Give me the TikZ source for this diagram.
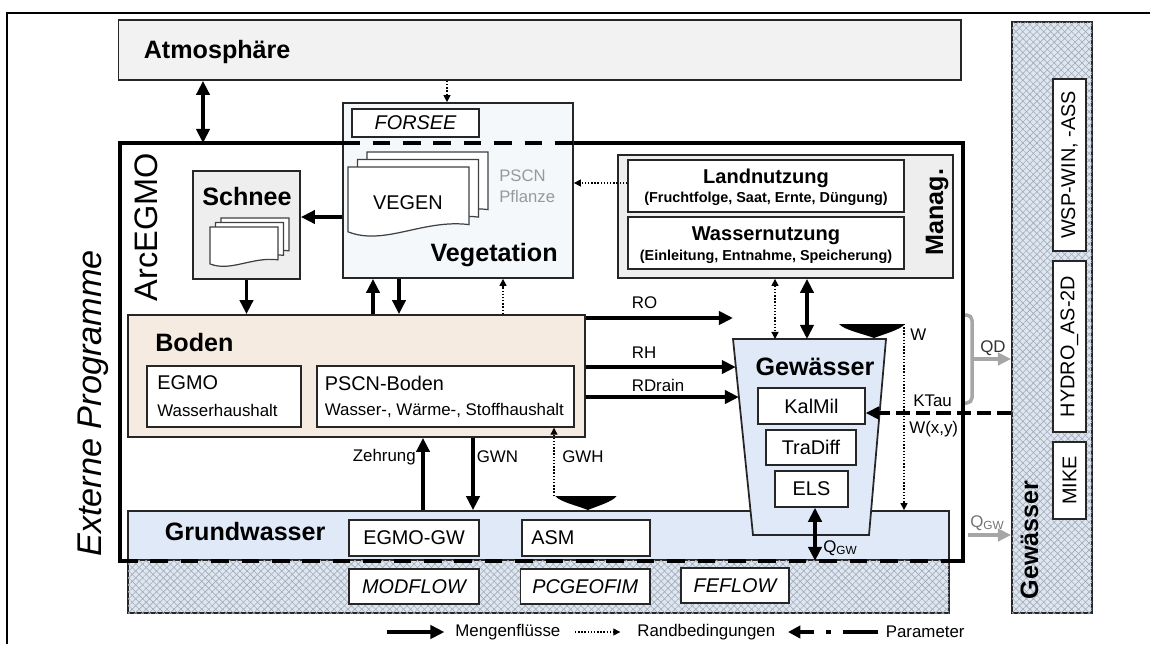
\documentclass[tikz,border=0pt]{standalone}
\usepackage{fontspec}
\setmainfont{Liberation Sans}
\usepackage{tikz}
\usetikzlibrary{arrows.meta,positioning,fit,calc,patterns.meta}

\definecolor{atmgray}{HTML}{F2F2F2}
\definecolor{mgmtgray}{HTML}{EEEEEE}
\definecolor{vegfill}{HTML}{F4F8FA}
\definecolor{bodenfill}{HTML}{F5EBE0}
\definecolor{wasserfill}{HTML}{DFE9F8}
\definecolor{hatchbg}{HTML}{DDE6F1}
\definecolor{hatchline}{HTML}{A3ABB5}
\definecolor{outgray}{HTML}{A6A6A6}

\tikzstyle{box}=[draw=black!85, line width=1pt, inner sep=0pt]
\tikzstyle{subbox}=[draw=black!85, line width=0.8pt, fill=white, inner sep=0pt]
\tikzstyle{arcframe}=[draw=black, line width=2.8pt, inner sep=0pt, outer sep=0pt]
\tikzstyle{hatched}=[box, fill=hatchbg,
  postaction={pattern={Lines[angle=45,distance=2.8pt,line width=0.35pt]}, pattern color=hatchline},
  postaction={pattern={Lines[angle=-45,distance=2.8pt,line width=0.35pt]}, pattern color=hatchline}]
\tikzstyle{head}=[inner sep=0pt, font=\bfseries\fontsize{14.3}{17}\selectfont]
\tikzstyle{txt}=[inner sep=0pt, font=\fontsize{11.3}{13.5}\selectfont]
\tikzstyle{prog}=[inner sep=0pt, font=\itshape\fontsize{11.3}{13.5}\selectfont]
\tikzstyle{lab}=[inner sep=0pt, font=\fontsize{9.6}{11.5}\selectfont]
\tikzstyle{flow}=[line width=2.2pt, -{Triangle[length=8pt,width=7.5pt]}]
\tikzstyle{flows}=[line width=2.2pt, {Triangle[length=8pt,width=7.5pt]}-{Triangle[length=8pt,width=7.5pt]}]
\tikzstyle{bound}=[line width=0.7pt, dash pattern=on 0.8pt off 1pt, -{Triangle[length=4pt,width=4pt]}]
\tikzstyle{bounds}=[bound, {Triangle[length=4pt,width=4pt]}-{Triangle[length=4pt,width=4pt]}]
\tikzstyle{param}=[line width=2.3pt, dash pattern=on 8pt off 3.5pt, -{Triangle[length=7.5pt,width=7pt]}]
\tikzstyle{paramleg}=[line width=2.3pt, dash pattern=on 20.4pt off 6.8pt on 2.8pt off 6.8pt, -{Triangle[length=7pt,width=7pt]}]
\tikzstyle{cutline}=[line width=2.6pt, dash pattern=on 10pt off 7.3pt]
\tikzstyle{outflow}=[draw=outgray, line width=2pt, -{Triangle[length=7.5pt,width=7pt]}]

\tikzset{
  sheet/.pic={\filldraw[fill=white, draw=black!75, line width=0.7pt] (0,0) -- (1,0) -- (1,0.8) .. controls (0.62,0.72) and (0.3,1.1) .. (0,0.9) -- cycle;},
  wlevel/.pic={\fill (-33,0) -- (33,0) .. controls (28,6) and (12,10) .. (2,14) .. controls (-8,10) and (-28,6) .. cycle;}
}

\begin{document}
\begin{tikzpicture}[x=0.2mm, y=-0.2mm]

\useasboundingbox (0,0) rectangle (1150,644);
\draw[line width=0.8pt] (7,644) -- (7,13) -- (1150,13);

% Atmosphaere
\node[box, fill=atmgray, fit={(118.6,20) (961,80)}] (atmo) {};
\node[head, anchor=west] (atmolbl) at (143.5,52) {Atmosphäre};

% ArcEGMO
\node[arcframe, fit={(120,143) (963,561)}] (arcegmo) {};
\node[rotate=90, anchor=base, inner sep=0pt, font=\fontsize{18.5}{22}\selectfont] (arclbl) at (157,227) {ArcEGMO};
\node[rotate=90, anchor=base, inner sep=0pt, font=\itshape\fontsize{19.5}{23}\selectfont] (extlbl) at (101.4,403.5) {Externe Programme};

% Gewaessermodelle rechts
\node[hatched, fit={(1012,22) (1092,613)}] (rcol) {};
\node[subbox, fit={(1053,79) (1086,251)}] (wsp) {};
\node[txt, rotate=90] (wsplbl) at (wsp) {WSP-WIN, -ASS};
\node[subbox, fit={(1053,261) (1086,432)}] (hydro) {};
\node[txt, rotate=90] (hydrolbl) at (hydro) {HYDRO\_AS-2D};
\node[subbox, fit={(1053,442) (1086,519)}] (mike) {};
\node[txt, rotate=90] (mikelbl) at (mike) {MIKE};
\node[head, rotate=90, anchor=base] (rcollbl) at (1038,540) {Gewässer};

% Vegetation
\node[box, fill=vegfill, fit={(343,103) (573,278)}] (veg) {};
\node[subbox, fit={(352,109) (479,137)}] (forsee) {};
\node[prog] (forseelbl) at (forsee) {FORSEE};
\draw[cutline] (veg.west |- 0,143) -- (veg.east |- 0,143);
\foreach \d in {2,1,0}
  \pic[shift={(348+9.5*\d,167-7.5*\d)}, xscale=121, yscale=72] {sheet};
\node[txt] (vegenlbl) at (408,203) {VEGEN};
\node[inner sep=0pt, text=black!40, align=left, anchor=west, font=\fontsize{9.5}{12}\selectfont] (pscnlbl) at (499,186.5) {PSCN\\Pflanze};
\node[head, anchor=east] (veglbl) at (558,255) {Vegetation};

% Schnee
\node[box, fill=mgmtgray, fit={(193,171) (300,279)}] (schnee) {};
\node[head] (schneelbl) at (247,197) {Schnee};
\foreach \d in {2,1,0}
  \pic[shift={(210+5.5*\d,227-4.5*\d)}, xscale=68, yscale=41] {sheet};

% Boden
\node[box, fill=bodenfill, fit={(128,315) (585,437)}] (boden) {};
\node[head, anchor=west] (bodenlbl) at (155,343) {Boden};
\node[subbox, fit={(147,366) (301,427)}] (egmo) {};
\node[txt, anchor=west] (egmolbl) at (157,383) {EGMO};
\node[lab, anchor=west] (egmotxt) at (157,410) {Wasserhaushalt};
\node[subbox, fit={(317,366) (574,427)}] (pscn) {};
\node[txt, anchor=west] (pscnbodlbl) at (324.5,383) {PSCN-Boden};
\node[lab, anchor=west] (pscntxt) at (324.5,410) {Wasser-, Wärme-, Stoffhaushalt};

% Management
\node[box, fill=mgmtgray, fit={(618,155) (953,278)}] (manag) {};
\node[subbox, fit={(628,160) (904,212)}] (landn) {};
\node[subbox, fit={(628,217) (904,269)}] (wassn) {};
\node[inner sep=0pt, font=\bfseries\fontsize{11.4}{13}\selectfont] (landnlbl) at (766,178) {Landnutzung};
\node[inner sep=0pt, font=\bfseries\fontsize{8.2}{10}\selectfont] (landntxt) at (766,199) {(Fruchtfolge, Saat, Ernte, Düngung)};
\node[inner sep=0pt, font=\bfseries\fontsize{11.4}{13}\selectfont] (wassnlbl) at (766,236) {Wassernutzung};
\node[inner sep=0pt, font=\bfseries\fontsize{8.2}{10}\selectfont] (wassntxt) at (766,257) {(Einleitung, Entnahme, Speicherung)};
\node[head, rotate=90, anchor=base] (managlbl) at (943,212) {Manag.};

% Grundwasser
\node[box, fill=wasserfill, fit={(128,511) (949,560)}] (gw) {};
\node[head, anchor=west] (gwlbl) at (164.5,532) {Grundwasser};
\node[subbox, fit={(349,520) (479,556)}] (egmogw) {};
\node[txt] (egmogwlbl) at (egmogw) {EGMO-GW};
\node[subbox, fit={(522,520) (650,556)}] (asm) {};
\node[txt, anchor=west] (asmlbl) at (531,538) {ASM};

% externe Grundwassermodelle
\node[hatched, fit={(128,560) (949,613)}] (gwext) {};
\node[subbox, fit={(349,569) (479,604)}] (modflow) {};
\node[prog] (modflowlbl) at (modflow) {MODFLOW};
\node[subbox, fit={(520.5,569) (650,604)}] (pcgeofim) {};
\node[prog] (pcgeofimlbl) at (pcgeofim) {PCGEOFIM};
\node[subbox, fit={(681,568) (789,603)}] (feflow) {};
\node[prog] (feflowlbl) at (feflow) {FEFLOW};
\draw[cutline] (arcegmo.south west) -- (arcegmo.south west -| gw.east);

% Gewaesser
\coordinate (gtl) at (733,339);
\coordinate (gtr) at (886,339);
\coordinate (gbr) at (869,535);
\coordinate (gbl) at (753,535);
\filldraw[fill=wasserfill, draw=black!85, line width=1pt] (gtl) -- (gtr) -- (gbr) -- (gbl) -- cycle;
\node[head] (gewlbl) at (815,367) {Gewässer};
\node[subbox, fit={(758,388) (865,424)}] (kalmil) {};
\node[txt] (kalmillbl) at (kalmil) {KalMil};
\node[subbox, fit={(766,430) (856,465)}] (tradiff) {};
\node[txt] (tradifflbl) at (tradiff) {TraDiff};
\node[subbox, fit={(775,471) (848,507)}] (els) {};
\node[txt] (elslbl) at (els) {ELS};

% Wasserstaende
\pic[shift={(872,324)}] {wlevel};
\pic[shift={(586,496)}, xscale=0.93] {wlevel};
\coordinate (wlgew) at (904,324);
\coordinate (wlgw) at (554,496);

% Fluesse Vegetation, Schnee, Atmosphaere
\draw[flows] (atmo.south -| 203,0) -- (arcegmo.north -| 203,0);
\draw[bound] (atmo.south -| 447,0) -- (veg.north -| 447,0);
\draw[flow] (veg.west |- 0,217) -- (schnee.east |- 0,217);
\draw[flow] (schnee.south) -- (schnee.south |- boden.north);
\draw[flow] (boden.north -| 373,0) -- (veg.south -| 373,0);
\draw[flow] (veg.south -| 399,0) -- (boden.north -| 399,0);
\draw[bound] (boden.north -| 503,0) -- (veg.south -| 503,0);
\draw[bound] (landn.west |- 0,183) -- (veg.east |- 0,183);
\draw[bounds] (manag.south -| 775,0) -- (gtl -| 775,0);
\draw[flows] (manag.south -| 807,0) -- (gtl -| 807,0);

% Abfluesse
\draw[flow] (boden.east |- 0,318) -- (gtl |- 0,318);
\draw[flow] (boden.east |- 0,367) -- ($(gtl)!0.143!(gbl)$);
\draw[flow] (boden.east |- 0,397) -- ($(gtl)!0.296!(gbl)$);
\node[lab, anchor=west] (rolbl) at (631.5,303) {RO};
\node[lab, anchor=west] (rhlbl) at (631.5,353) {RH};
\node[lab, anchor=west] (rdrainlbl) at (631.5,385) {RDrain};

% Grundwasser
\draw[flow] (gw.north -| 423,0) -- (boden.south -| 423,0);
\draw[flow] (boden.south -| 473,0) -- (gw.north -| 473,0);
\draw[bound] (wlgw) -- (wlgw |- pscn.south);
\node[lab, anchor=east] (zehrlbl) at (416,457) {Zehrung};
\node[lab, anchor=west] (gwnlbl) at (476.5,457) {GWN};
\node[lab, anchor=west] (gwhlbl) at (562,457) {GWH};

% Gewaesser - Grundwasser
\draw[flows] (els.south -| 815,0) -- (gw.south -| 815,0);
\node[lab, anchor=west] (qgwlbl) at (823,548) {Q\textsubscript{GW}};
\draw[bound] (wlgew) -- (wlgew |- gw.north);
\node[lab, anchor=west] (wlbl) at (910,335) {W};
\draw[param] (rcol.west |- 0,413) -- (kalmil.east |- 0,413);
\node[lab, anchor=west] (ktaulbl) at (913,401) {KTau};
\node[lab, anchor=west] (wxylbl) at (909,429) {W(x,y)};

% Uebergabe an Gewaessermodelle
\draw[draw=outgray, line width=2pt, rounded corners=3pt] (965,315) -- (972,315) -- (972,403) -- (965,403);
\coordinate (qdmid) at (972,359);
\draw[outflow] (qdmid) -- (rcol.west |- qdmid);
\node[lab, anchor=west, text=black!80] (qdlbl) at (980,348) {QD};
\coordinate (qgwout) at (968,535);
\draw[outflow] (qgwout) -- (rcol.west |- qgwout);
\node[lab, anchor=west, text=black!55] (qgwoutlbl) at (970,523) {Q\textsubscript{GW}};

% Legende
\coordinate (lgflow) at (387,632);
\node[lab, anchor=west] (lgflowlbl) at (455,632) {Mengenflüsse};
\draw[flow, shorten >=6pt] (lgflow) -- (lgflowlbl.west);
\coordinate (lgbound) at (575,632);
\node[lab, anchor=west] (lgboundlbl) at (637,632) {Randbedingungen};
\draw[bound, shorten >=9.5pt] (lgbound) -- (lgboundlbl.west);
\coordinate (lgparam) at (788,632);
\node[lab, anchor=west] (lgparamlbl) at (885.5,632) {Parameter};
\draw[paramleg, shorten <=4pt] (lgparamlbl.west) -- (lgparam);

\end{tikzpicture}
\end{document}
